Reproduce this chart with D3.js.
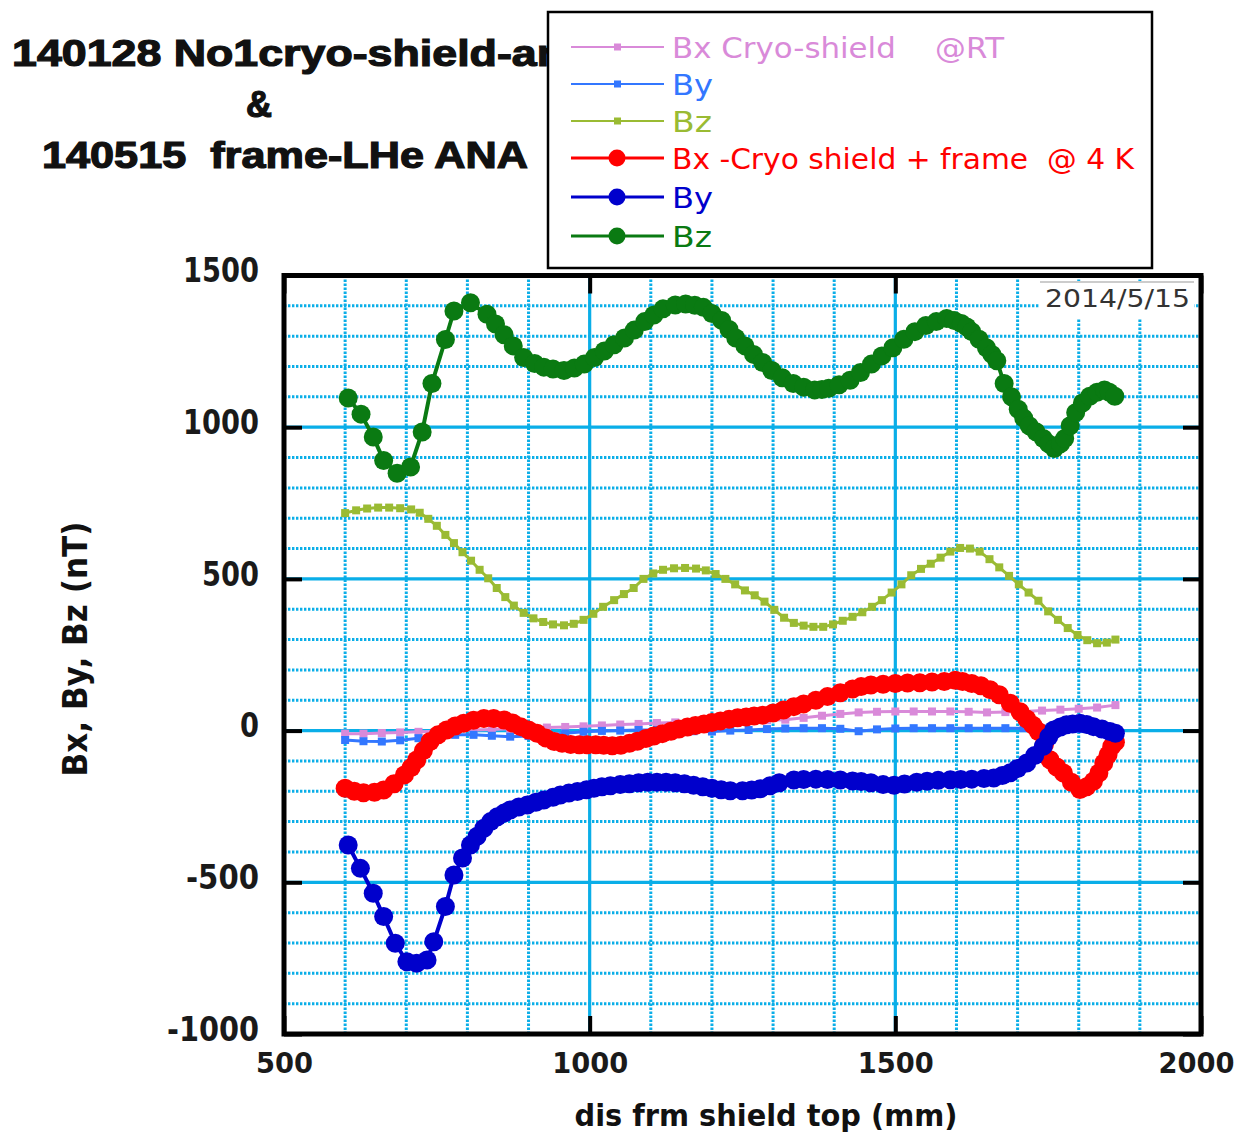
<!DOCTYPE html>
<html>
<head>
<meta charset="utf-8">
<script src="https://cdn.jsdelivr.net/npm/d3@7"></script>
<style>
  html, body { margin: 0; padding: 0; background: #fff; }
  svg { display: block; }
  text { white-space: pre; }
</style>
</head>
<body>
<svg id="chart" width="1243" height="1134"></svg>
<script>
// ---- axis ticks ----
const xTicks = [500, 1000, 1500, 2000];
const yTicks = [-1000, -500, 0, 500, 1000, 1500];

// ---- legend ----
const seriesLabels = [
  "Bx Cryo-shield    @RT",
  "By",
  "Bz",
  "Bx -Cryo shield + frame  @ 4 K",
  "By",
  "Bz"
];
const seriesColors = ["#d98ad9", "#3377ff", "#9abb33", "#ff0000", "#0000cc", "#0a7a12"];

// ---- measurements: [distance from shield top (mm), field (nT)] ----
// cryo-shield alone, room temperature
const bxRT = [[600,-10],[630,-10],[660,-8],[690,-6],[720,-4],[750,-2],[780,0],[810,2],[840,4],[870,6],
  [900,8],[930,10],[960,12],[990,14],[1020,17],[1050,20],[1080,22],[1110,25],[1140,27],[1170,28],
  [1200,30],[1230,31],[1260,32],[1290,34],[1320,36],[1350,42],[1380,49],[1410,55],[1440,60],[1470,62],
  [1500,63],[1530,63],[1560,63],[1590,63],[1620,62],[1650,60],[1680,61],[1710,63],[1740,66],[1770,69],
  [1800,72],[1830,76],[1860,84]];
const byRT = [[600,-31],[630,-35],[660,-36],[690,-32],[720,-25],[750,-16],[780,-14],[810,-14],[840,-17],[870,-20],
  [900,-18],[930,-14],[960,-9],[990,-4],[1020,-1],[1050,0],[1080,2],[1110,2],[1140,0],[1170,-2],
  [1200,-3],[1230,0],[1260,2],[1290,5],[1320,7],[1350,8],[1380,8],[1410,6],[1440,-2],[1470,4],
  [1500,7],[1530,8],[1560,8],[1590,8],[1620,8],[1650,8],[1680,8],[1710,8],[1740,7],[1770,6],
  [1800,5],[1830,3],[1860,2]];
const bzRT = [[600,717],[618,726],[636,732],[654,735],[672,735],[690,733],[708,729],[722,718],[736,698],[750,675],
  [764,645],[778,618],[792,588],[806,560],[820,530],[834,502],[848,470],[862,440],[876,412],[892,388],
  [908,370],[924,358],[940,350],[958,347],[974,352],[990,365],[1006,385],[1022,408],[1040,430],[1056,450],
  [1072,470],[1088,500],[1104,518],[1120,530],[1138,535],[1156,536],[1174,534],[1190,528],[1206,516],[1222,500],
  [1238,482],[1254,462],[1270,446],[1286,425],[1302,398],[1318,372],[1334,355],[1350,346],[1366,342],[1382,342],
  [1398,350],[1414,362],[1430,375],[1446,390],[1462,408],[1478,430],[1494,455],[1510,482],[1526,512],[1542,533],
  [1558,550],[1574,570],[1590,590],[1606,602],[1622,600],[1638,590],[1654,565],[1670,538],[1686,510],[1702,482],
  [1718,455],[1734,428],[1750,393],[1766,365],[1782,338],[1798,315],[1814,298],[1830,288],[1846,290],[1860,300]];

// cryo-shield + frame, 4 K
const bx4K = [[600,-190],[615,-200],[630,-205],[648,-203],[663,-196],[680,-175],[697,-146],[708,-122],[717,-97],[728,-66],
  [739,-36],[752,-14],[766,2],[780,15],[794,24],[810,34],[827,40],[843,40],[860,35],[874,25],
  [887,13],[900,2],[914,-9],[928,-24],[942,-36],[955,-42],[969,-46],[983,-47],[996,-47],[1010,-47],
  [1023,-48],[1037,-50],[1051,-48],[1065,-42],[1078,-35],[1092,-26],[1105,-18],[1119,-10],[1133,-2],[1146,5],
  [1160,12],[1173,17],[1187,22],[1200,27],[1214,32],[1228,37],[1242,42],[1256,45],[1269,48],[1283,51],
  [1300,58],[1317,68],[1334,79],[1350,88],[1370,100],[1389,112],[1410,125],[1430,137],[1444,145],[1460,150],
  [1480,153],[1500,155],[1520,157],[1540,158],[1560,160],[1580,162],[1598,166],[1610,162],[1625,155],[1640,148],
  [1655,135],[1670,118],[1688,90],[1704,62],[1715,38],[1725,18],[1734,-3],[1744,-45],[1753,-96],[1764,-120],
  [1775,-140],[1788,-170],[1802,-194],[1813,-185],[1824,-167],[1833,-140],[1841,-107],[1848,-80],[1854,-52],[1860,-38]];
const by4K = [[605,-377],[625,-454],[646,-536],[663,-613],[682,-701],[701,-762],[717,-767],[734,-756],[745,-696],[764,-580],
  [778,-476],[792,-420],[805,-377],[816,-348],[827,-322],[838,-300],[849,-284],[860,-272],[870,-262],[884,-252],
  [898,-245],[912,-236],[925,-229],[940,-220],[952,-212],[966,-206],[980,-201],[995,-195],[1007,-190],[1020,-185],
  [1034,-182],[1050,-178],[1065,-175],[1080,-172],[1095,-170],[1110,-170],[1125,-170],[1140,-172],[1155,-175],[1170,-180],
  [1185,-185],[1200,-190],[1215,-195],[1230,-198],[1250,-198],[1265,-196],[1279,-192],[1295,-182],[1310,-172],[1334,-163],
  [1350,-161],[1370,-160],[1389,-161],[1410,-163],[1430,-166],[1444,-168],[1460,-172],[1480,-178],[1498,-180],[1515,-176],
  [1535,-170],[1552,-167],[1570,-164],[1590,-162],[1607,-161],[1625,-160],[1645,-158],[1661,-156],[1675,-148],[1688,-139],
  [1700,-125],[1715,-107],[1728,-82],[1742,-52],[1751,-20],[1759,2],[1770,12],[1780,19],[1790,22],[1802,24],
  [1813,20],[1824,13],[1838,5],[1851,-3],[1860,-9]];
const bz4K = [[605,1096],[626,1043],[646,968],[663,890],[685,848],[707,869],[726,984],[742,1144],[764,1289],[778,1383],
  [805,1410],[832,1372],[846,1340],[860,1305],[875,1268],[892,1230],[910,1210],[925,1198],[940,1192],[958,1187],
  [975,1195],[991,1208],[1008,1230],[1024,1251],[1040,1272],[1057,1294],[1073,1320],[1090,1348],[1105,1370],[1120,1390],
  [1140,1403],[1157,1406],[1172,1402],[1186,1395],[1200,1375],[1216,1352],[1228,1322],[1239,1294],[1254,1268],[1268,1240],
  [1283,1213],[1298,1187],[1315,1163],[1333,1144],[1350,1132],[1368,1123],[1380,1124],[1391,1128],[1408,1140],[1426,1155],
  [1443,1180],[1461,1208],[1478,1235],[1496,1262],[1514,1290],[1532,1315],[1550,1335],[1567,1348],[1584,1358],[1596,1352],
  [1608,1342],[1617,1330],[1625,1315],[1637,1290],[1649,1262],[1658,1240],[1666,1219],[1678,1144],[1690,1100],[1701,1059],
  [1710,1030],[1719,1005],[1730,985],[1742,963],[1751,945],[1760,930],[1770,945],[1777,963],[1786,1005],[1795,1048],
  [1806,1080],[1818,1102],[1830,1115],[1842,1123],[1850,1115],[1859,1102]];

const series = [
  { data: bxRT, color: seriesColors[0], kind: "rt" },
  { data: byRT, color: seriesColors[1], kind: "rt" },
  { data: bzRT, color: seriesColors[2], kind: "rt" },
  { data: bx4K, color: seriesColors[3], kind: "k4" },
  { data: by4K, color: seriesColors[4], kind: "k4" },
  { data: bz4K, color: seriesColors[5], kind: "k4" }
];

const svg = d3.select("#chart");
svg.append("rect").attr("width", 1243).attr("height", 1134).attr("fill", "#fff");

const x = d3.scaleLinear().domain([500, 2000]).range([284, 1201]);
const y = d3.scaleLinear().domain([-1000, 1500]).range([1034, 275.5]);

const gridBlue = "#0aaee8";
const plot = svg.append("g");
plot.append("rect")
  .attr("x", x(500)).attr("y", y(1500))
  .attr("width", x(2000) - x(500)).attr("height", y(-1000) - y(1500))
  .attr("fill", "#fff");

// minor grid (dotted) every 100
const minorX = d3.range(600, 2000, 100).filter(v => v % 500 !== 0);
const minorY = d3.range(-900, 1500, 100).filter(v => v % 500 !== 0);
plot.selectAll("line.mx").data(minorX).join("line")
  .attr("x1", d => x(d)).attr("x2", d => x(d))
  .attr("y1", y(1500)).attr("y2", y(-1000))
  .attr("stroke", gridBlue).attr("stroke-width", 3).attr("stroke-dasharray", "2.4,1.6");
plot.selectAll("line.my").data(minorY).join("line")
  .attr("x1", x(500)).attr("x2", x(2000))
  .attr("y1", d => y(d)).attr("y2", d => y(d))
  .attr("stroke", gridBlue).attr("stroke-width", 3).attr("stroke-dasharray", "2.4,1.6");

// major grid (solid)
const majorX = xTicks.filter(v => v > 500 && v < 2000);
const majorY = yTicks.filter(v => v > -1000 && v < 1500);
plot.selectAll("line.Mx").data(majorX).join("line")
  .attr("x1", d => x(d)).attr("x2", d => x(d))
  .attr("y1", y(1500)).attr("y2", y(-1000))
  .attr("stroke", gridBlue).attr("stroke-width", 3.2);
plot.selectAll("line.My").data(majorY).join("line")
  .attr("x1", x(500)).attr("x2", x(2000))
  .attr("y1", d => y(d)).attr("y2", d => y(d))
  .attr("stroke", gridBlue).attr("stroke-width", 3.2);

// ---- series ----
const line = d3.line().x(d => x(d[0])).y(d => y(d[1]));
series.forEach(s => {
  const g = plot.append("g");
  g.append("path").datum(s.data)
    .attr("d", line).attr("fill", "none")
    .attr("stroke", s.color)
    .attr("stroke-width", s.kind === "k4" ? 4 : 3)
    .attr("stroke-linejoin", "round");
  if (s.kind === "k4") {
    g.selectAll("circle").data(s.data).join("circle")
      .attr("cx", d => x(d[0])).attr("cy", d => y(d[1]))
      .attr("r", 9.5).attr("fill", s.color);
  } else {
    g.selectAll("rect").data(s.data).join("rect")
      .attr("x", d => x(d[0]) - 4).attr("y", d => y(d[1]) - 4)
      .attr("width", 8).attr("height", 8).attr("fill", s.color);
  }
});

// date stamp
const stamp = svg.append("g");
stamp.append("rect").attr("x", 1040).attr("y", 281).attr("width", 154).attr("height", 38).attr("fill", "#fff");
stamp.append("line").attr("x1", 1040).attr("x2", 1194).attr("y1", 282).attr("y2", 282)
  .attr("stroke", "#999").attr("stroke-width", 1);
stamp.append("text").attr("x", 1045).attr("y", 307)
  .attr("font-family", "'DejaVu Sans', sans-serif").attr("font-size", 24)
  .attr("fill", "#333").attr("textLength", 145).attr("lengthAdjust", "spacingAndGlyphs")
  .text("2014/5/15");

// ---- axes ----
const tickFont = "'DejaVu Sans', sans-serif";
const plainNumber = d => String(d);
function labelWidth(v) {
  const s = String(v);
  return s.replace("-", "").length * 19 + (s.startsWith("-") ? 16 : 0);
}
function styleAxis(g, withText, size) {
  g.select(".domain").remove();
  g.selectAll(".tick line").attr("stroke", "#000").attr("stroke-width", 4);
  if (withText) {
    g.selectAll(".tick text")
      .attr("font-family", tickFont).attr("font-size", size).attr("font-weight", "bold")
      .attr("fill", "#1a1a1a")
      .attr("textLength", d => labelWidth(d)).attr("lengthAdjust", "spacingAndGlyphs");
  }
}
const axB = svg.append("g").attr("transform", `translate(0,${y(-1000)})`)
  .call(d3.axisBottom(x).tickValues(xTicks).tickSizeInner(-18).tickSizeOuter(0).tickPadding(18).tickFormat(plainNumber));
styleAxis(axB, true, 29);
axB.selectAll(".tick").filter(d => d === 2000).select("text").attr("dx", "-5");
const axT = svg.append("g").attr("transform", `translate(0,${y(1500)})`)
  .call(d3.axisTop(x).tickValues(xTicks).tickSizeInner(-18).tickSizeOuter(0).tickFormat(() => ""));
styleAxis(axT, false);
const axL = svg.append("g").attr("transform", `translate(${x(500)},0)`)
  .call(d3.axisLeft(y).tickValues(yTicks).tickSizeInner(-18).tickSizeOuter(0).tickPadding(25).tickFormat(plainNumber));
styleAxis(axL, true, 34);
axL.selectAll(".tick text").attr("dy", "0.18em");
const axR = svg.append("g").attr("transform", `translate(${x(2000)},0)`)
  .call(d3.axisRight(y).tickValues(yTicks).tickSizeInner(-18).tickSizeOuter(0).tickFormat(() => ""));
styleAxis(axR, false);

// frame
svg.append("rect")
  .attr("x", x(500)).attr("y", y(1500))
  .attr("width", x(2000) - x(500)).attr("height", y(-1000) - y(1500))
  .attr("fill", "none").attr("stroke", "#000").attr("stroke-width", 5);

// axis titles
svg.append("text").attr("x", 766).attr("y", 1126).attr("text-anchor", "middle")
  .attr("font-family", tickFont).attr("font-size", 30).attr("font-weight", "bold").attr("fill", "#111")
  .attr("textLength", 383).attr("lengthAdjust", "spacingAndGlyphs")
  .text("dis frm shield top (mm)");
svg.append("text").attr("transform", "translate(87,649) rotate(-90)").attr("text-anchor", "middle")
  .attr("font-family", tickFont).attr("font-size", 33).attr("font-weight", "bold").attr("fill", "#111")
  .attr("textLength", 255).attr("lengthAdjust", "spacingAndGlyphs")
  .text("Bx, By, Bz (nT)");

// ---- title ----
const titleFont = "'Liberation Sans', Arial, sans-serif";
const title = svg.append("g").attr("font-family", titleFont).attr("font-weight", "bold")
  .attr("font-size", 36).attr("fill", "#111").attr("stroke", "#111").attr("stroke-width", 1.2);
title.append("text").attr("x", 12).attr("y", 66)
  .attr("textLength", 552).attr("lengthAdjust", "spacingAndGlyphs")
  .text("140128 No1cryo-shield-an");
title.append("text").attr("x", 259).attr("y", 117).attr("text-anchor", "middle").text("&");
title.append("text").attr("x", 42).attr("y", 168)
  .attr("textLength", 486).attr("lengthAdjust", "spacingAndGlyphs")
  .text("140515  frame-LHe ANA");

// ---- legend ----
const legend = svg.append("g");
legend.append("rect").attr("x", 548).attr("y", 12).attr("width", 604).attr("height", 256)
  .attr("fill", "#fff").attr("stroke", "#000").attr("stroke-width", 2.5);
const rowY = [47, 84, 121, 158, 197, 236];
const labelLen = [332, 41, 40, 462, 41, 40];
seriesLabels.forEach((lab, i) => {
  const s = series[i];
  const g = legend.append("g").attr("transform", `translate(0,${rowY[i]})`);
  g.append("line").attr("x1", 571).attr("x2", 664).attr("y1", 0).attr("y2", 0)
    .attr("stroke", s.color).attr("stroke-width", s.kind === "k4" ? 3 : 2);
  if (s.kind === "k4") {
    g.append("circle").attr("cx", 617).attr("cy", 0).attr("r", 8.5).attr("fill", s.color);
  } else {
    g.append("rect").attr("x", 614).attr("y", -3.5).attr("width", 7).attr("height", 7).attr("fill", s.color);
  }
  g.append("text").attr("x", 672).attr("y", 11)
    .attr("font-family", tickFont).attr("font-size", 29).attr("fill", s.color)
    .attr("textLength", labelLen[i]).attr("lengthAdjust", "spacingAndGlyphs")
    .text(lab);
});
</script>
</body>
</html>
